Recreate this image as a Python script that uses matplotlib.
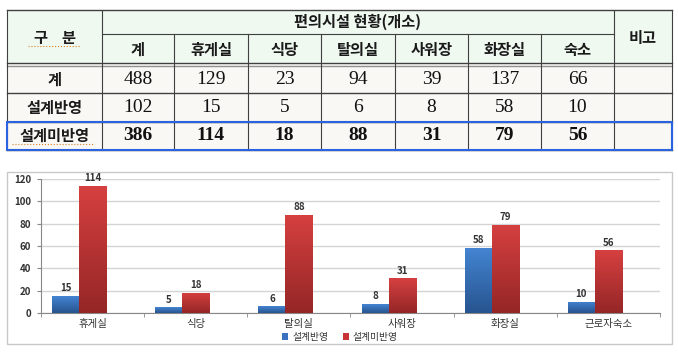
import numpy as np
import matplotlib
matplotlib.use("Agg")
import matplotlib.pyplot as plt
from matplotlib.patches import Rectangle
from matplotlib.colors import LinearSegmentedColormap

plt.rcParams['font.family'] = ['Noto Sans CJK KR', 'DejaVu Sans']

# table data
table_cols = ['계', '휴게실', '식당', '탈의실', '사워장', '화장실', '숙소']
row_names = ['계', '설계반영', '설계미반영']
total = [488, 129, 23, 94, 39, 137, 66]
reflected = [102, 15, 5, 6, 8, 58, 10]
not_reflected = [386, 114, 18, 88, 31, 79, 56]

# chart data
chart_cats = ['휴게실', '식당', '탈의실', '사워장', '화장실', '근로자숙소']
chart_reflected = [15, 5, 6, 8, 58, 10]
chart_not = [114, 18, 88, 31, 79, 56]
legend_names = ['설계반영', '설계미반영']

W, H = 678, 356
fig = plt.figure(figsize=(W / 100, H / 100), dpi=100)

# ---- table drawn in pixel coordinates ----
tax = fig.add_axes([0, 0, 1, 1])
tax.set_xlim(0, W)
tax.set_ylim(H, 0)
tax.axis('off')

col_x = [7, 102, 174, 248, 321, 395, 468, 541, 614, 672]
row_y = [9.5, 63, 93, 122, 150]
sub_y = 34
head_bg = '#eff9f0'
body_bg = '#f9f8f4'
line_c = '#404040'
kfont = dict(fontsize=11, fontweight='bold', color='#1a1a1a')

tax.add_patch(Rectangle((col_x[0], row_y[0]), col_x[-1] - col_x[0], row_y[1] - row_y[0],
                        facecolor=head_bg, edgecolor='none'))
tax.add_patch(Rectangle((col_x[0], row_y[1]), col_x[-1] - col_x[0], row_y[-1] - row_y[1],
                        facecolor=body_bg, edgecolor='none'))

# horizontal lines
for y in row_y:
    tax.plot([col_x[0], col_x[-1]], [y, y], color=line_c, lw=1)
tax.plot([col_x[0], col_x[-1]], [row_y[1] + 2.5, row_y[1] + 2.5], color='#909090', lw=1)
tax.plot([col_x[1], col_x[-2]], [sub_y, sub_y], color=line_c, lw=0.8)
# vertical lines
for i, x in enumerate(col_x):
    y0 = row_y[0] if i in (0, 1, len(col_x) - 2, len(col_x) - 1) else sub_y
    tax.plot([x, x], [y0, row_y[-1]], color=line_c, lw=0.8)

# headers
tax.text((col_x[1] + col_x[-2]) / 2, (row_y[0] + sub_y) / 2, '편의시설 현황(개소)',
         ha='center', va='center', **kfont)
tax.text((col_x[0] + col_x[1]) / 2, 38, '구    분', ha='center', va='center', **kfont)
tax.plot([28, 80], [46, 46], color='#e08020', lw=0.8, ls=':')
tax.text((col_x[-2] + col_x[-1]) / 2, 38, '비고', ha='center', va='center', **kfont)
for j, name in enumerate(table_cols):
    tax.text((col_x[j + 1] + col_x[j + 2]) / 2, (sub_y + row_y[1]) / 2 + 1, name,
             ha='center', va='center', **kfont)

rows = [total, reflected, not_reflected]
for i, (rname, vals) in enumerate(zip(row_names, rows)):
    yc = (row_y[i + 1] + row_y[i + 2]) / 2 + (1.5 if i == 0 else 0)
    tax.text((col_x[0] + col_x[1]) / 2, yc, rname, ha='center', va='center', **kfont)
    for j, v in enumerate(vals):
        tax.text((col_x[j + 1] + col_x[j + 2]) / 2, yc, str(v), ha='center', va='center',
                 fontsize=14, family='Liberation Serif',
                 fontweight='bold' if i == 2 else 'normal', color='#111111')
tax.plot([12, 94], [144, 144], color='#e08020', lw=0.8, ls=':')
tax.add_patch(Rectangle((col_x[0], row_y[3]), col_x[-1] - col_x[0], row_y[4] - row_y[3],
                        facecolor='none', edgecolor='#2a62e0', lw=1.5, zorder=5))

# chart frame
tax.add_patch(Rectangle((7, 172), 665, 172, facecolor='white', edgecolor='#c8c8c8', lw=1))

# ---- bar chart ----
ax = fig.add_axes([41 / W, 1 - 313 / H, (660 - 41) / W, (313 - 179) / H])
x = np.arange(len(chart_cats))
bw = 0.262
blue_bars = ax.bar(x - bw, chart_reflected, bw, color='#3a72bf', zorder=3, label=legend_names[0])
red_bars = ax.bar(x, chart_not, bw, color='#c83434', zorder=3, label=legend_names[1])

blue_cmap = LinearSegmentedColormap.from_list('b', ['#27548f', '#4484d2'])
red_cmap = LinearSegmentedColormap.from_list('r', ['#952626', '#d64040'])
grad = np.linspace(0, 1, 64).reshape(-1, 1)
for bars, cmap in ((blue_bars, blue_cmap), (red_bars, red_cmap)):
    for b in bars:
        x0, y0 = b.get_x(), b.get_y()
        im = ax.imshow(grad, extent=(x0, x0 + b.get_width(), y0, y0 + b.get_height()),
                       origin='lower', cmap=cmap, aspect='auto', zorder=3.5)
        im.set_clip_path(b)

for bars, vals in ((blue_bars, chart_reflected), (red_bars, chart_not)):
    for b, v in zip(bars, vals):
        ax.text(b.get_x() + b.get_width() / 2, v + 2.5, str(v), ha='center', va='bottom',
                fontsize=7, fontweight='bold', color='#333333', zorder=5)

ax.set_xlim(-0.5, len(chart_cats) - 0.5)
ax.set_ylim(0, 120)
ax.set_yticks(range(0, 121, 20))
ax.set_xticks(x)
ax.set_xticklabels(chart_cats, fontsize=7.5, color='#333333')
ax.set_xticks(np.arange(-0.5, len(chart_cats), 1), minor=True)
ax.tick_params(axis='x', which='major', length=0, pad=4)
ax.tick_params(axis='x', which='minor', length=3, color='#888888', direction='out')
ax.tick_params(axis='y', length=3, color='#888888', labelsize=7, labelcolor='#333333', pad=4)
for lab in ax.get_yticklabels():
    lab.set_fontweight('bold')
ax.grid(axis='y', color='#d4d4d4', lw=1, zorder=0)
ax.set_axisbelow(True)
for s in ('top', 'right'):
    ax.spines[s].set_visible(False)
ax.spines['left'].set_color('#888888')
ax.spines['bottom'].set_color('#888888')

leg = fig.legend(handles=[blue_bars, red_bars], labels=legend_names, loc='center',
                 bbox_to_anchor=(340 / W, 1 - 337 / H), ncol=2, frameon=False,
                 fontsize=7, handlelength=0.6, handleheight=0.6, columnspacing=1.5,
                 handletextpad=0.4)
for t in leg.get_texts():
    t.set_color('#333333')

fig.savefig('out.png', dpi=100)
